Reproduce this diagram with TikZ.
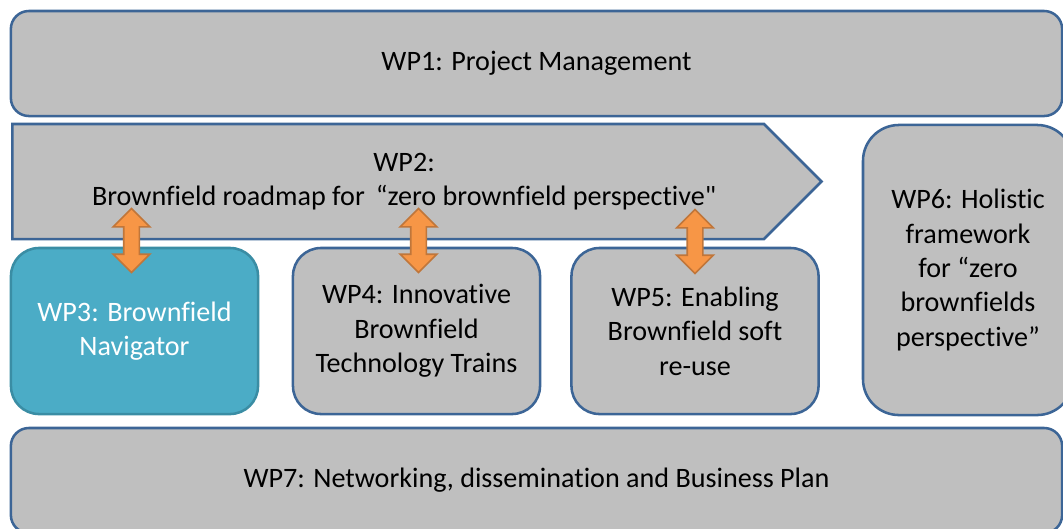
\documentclass[tikz,border=0pt]{standalone}
\usepackage{fontspec}
\newfontfamily\wpfont{Carlito}[Ligatures=NoCommon]
\usetikzlibrary{calc,shapes.arrows,shapes.symbols}
\definecolor{wpgray}{HTML}{BFBFBF}
\definecolor{wpblue}{HTML}{3C6596}
\definecolor{wpteal}{HTML}{4BACC6}
\definecolor{wptealedge}{HTML}{3A8DA4}
\definecolor{wporange}{HTML}{F79646}
\definecolor{wporangeedge}{HTML}{C0763A}
\tikzset{
  wpbox/.style={draw=wpblue, fill=wpgray, line width=1.8pt, align=center, inner sep=0pt, font=\wpfont\fontsize{20}{24.5}\selectfont},
  wpsmall/.style={wpbox, rounded corners=0.7cm, minimum width=6.175cm, minimum height=4.15cm},
  wpwide/.style={wpbox, rounded corners=0.45cm, minimum width=26.275cm, minimum height=2.625cm},
  wparrow/.style={double arrow, draw=wporangeedge, fill=wporange, line width=1.2pt, rotate=90,
    inner sep=0pt, inner ysep=0.175cm, minimum height=1.6cm, minimum width=0.875cm,
    double arrow head extend=0.2625cm, double arrow tip angle=90}
}
\begin{document}
\begin{tikzpicture}[x=0.025cm, y=-0.025cm]
  \useasboundingbox (0,0) rectangle (1063,528);
  \clip (0,0) rectangle (1063,528);

  % top and bottom bars
  \node[wpwide] (wp1) at (536.5,63.5) {WP1: Project Management};
  \node[wpwide] (wp7) at (536.5,480.5) {WP7: Networking, dissemination and Business Plan};

  % roadmap
  \node[wpbox, signal, signal to=east, signal pointer angle=90, minimum width=20.225cm, minimum height=2.875cm, anchor=west] (wp2) at (11,181.5)
    {\hspace*{0.8cm}WP2:\\\hspace*{0.8cm}Brownfield roadmap for \,“zero brownfield perspective"};

  % work packages
  \node[wpsmall, fill=wpteal, draw=wptealedge, text=white] (wp3) at (134.5,331) {WP3: Brownfield\\Navigator};
  \node[wpsmall] (wp4) at (416.5,331) {WP4: Innovative\\Brownfield\\Technology Trains};
  \node[wpsmall] (wp5) at (695,331) {WP5: Enabling\\Brownfield soft\\re-use};
  \node[wpbox, rounded corners=0.9cm, minimum width=5.25cm, minimum height=7.25cm] (wp6) at (968,270)
    {WP6: Holistic\\framework\\for “zero\\brownfields\\perspective”};

  % links to the roadmap
  \node[wparrow] (a3) at ($(wp3.north)!.5!(wp3.north |- wp2.south)+(-3,-3)$) {};
  \node[wparrow] (a4) at ($(wp4.north)!.5!(wp4.north |- wp2.south)+(2,-3)$) {};
  \node[wparrow] (a5) at ($(wp5.north)!.5!(wp5.north |- wp2.south)+(0,-2)$) {};
\end{tikzpicture}
\end{document}
